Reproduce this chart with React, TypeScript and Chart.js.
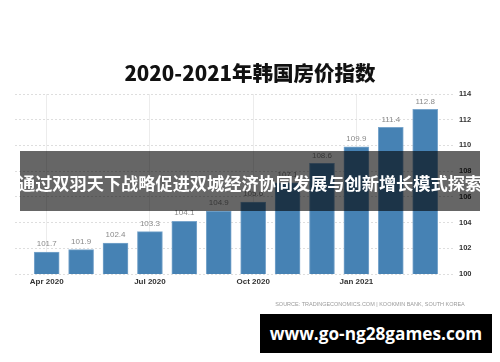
import React, { useEffect, useRef } from "react";
import { Chart, registerables } from "chart.js";

Chart.register(...registerables);

const titleText = "2020-2021年韩国房价指数";
const bannerText = "通过双羽天下战略促进双城经济协同发展与创新增长模式探索";
const sourceText = "SOURCE: TRADINGECONOMICS.COM | KOOKMIN BANK, SOUTH KOREA";
const watermarkText = "www.go-ng28games.com";

const categories = [
  "Apr 2020", "May 2020", "Jun 2020", "Jul 2020", "Aug 2020", "Sep 2020",
  "Oct 2020", "Nov 2020", "Dec 2020", "Jan 2021", "Feb 2021", "Mar 2021",
];
const values = [101.7, 101.9, 102.4, 103.3, 104.1, 104.9, 105.6, 107.1, 108.6, 109.9, 111.4, 112.8];
const xTickIndices = [0, 3, 6, 9];
const yTicks = [100, 102, 104, 106, 108, 110, 112, 114];

const valueLabels = {
  id: "valueLabels",
  afterDatasetsDraw(chart: any) {
    const ctx = chart.ctx;
    const meta = chart.getDatasetMeta(0);
    ctx.save();
    ctx.font = "8px 'Liberation Sans', Arial, sans-serif";
    ctx.fillStyle = "#8a8a8a";
    ctx.textAlign = "center";
    ctx.textBaseline = "middle";
    meta.data.forEach((el: any, i: number) => {
      ctx.fillText(values[i].toFixed(1), el.x, el.y - 8);
    });
    ctx.restore();
  },
};

export default function App() {
  const ref = useRef<HTMLCanvasElement | null>(null);

  useEffect(() => {
    if (!ref.current) return;
    const chart = new Chart(ref.current, {
      type: "bar",
      data: {
        datasets: [
          {
            data: values.map((v, i) => ({ x: i, y: v })),
            backgroundColor: "#4682b4",
            borderColor: "#7aa6cc",
            borderWidth: 1,
            barThickness: 25,
          } as any,
        ],
      },
      options: {
        animation: false,
        responsive: false,
        layout: { padding: { left: 15, top: 94, right: 0, bottom: 68 } },
        plugins: { legend: { display: false }, tooltip: { enabled: false } },
        scales: {
          x: {
            type: "linear",
            offset: false,
            min: -0.921,
            max: 11.866,
            afterBuildTicks: (scale: any) => {
              scale.ticks = xTickIndices.map((v) => ({ value: v }));
            },
            afterFit: (scale: any) => {
              scale.height = 20;
            },
            ticks: {
              padding: 3,
              color: "#333",
              font: { family: "'Liberation Sans', Arial, sans-serif", size: 8, weight: "bold" },
              callback: (v: any) => categories[v as number] ?? "",
              maxRotation: 0,
              autoSkip: false,
            },
            grid: { color: "#ececec", drawTicks: false, lineWidth: 1, offset: false },
            border: { display: false },
          },
          y: {
            position: "right",
            min: 100,
            max: 114,
            afterBuildTicks: (scale: any) => {
              scale.ticks = yTicks.map((v) => ({ value: v }));
            },
            afterFit: (scale: any) => {
              scale.width = 45;
            },
            ticks: {
              padding: 4,
              color: "#333",
              font: { family: "'Liberation Sans', Arial, sans-serif", size: 7.5, weight: "bold" },
            },
            grid: { color: "#dedede", drawTicks: false, lineWidth: 1 },
            border: { display: false, dash: [2, 2] },
          },
        },
      } as any,
      plugins: [valueLabels],
    });
    return () => chart.destroy();
  }, []);

  return (
    <div style={{ position: "absolute", left: 0, top: 0, width: 500, height: 362, background: "#fff", overflow: "hidden" }}>
      <canvas ref={ref} width={500} height={362} style={{ position: "absolute", left: 0, top: 0, width: 500, height: 362 }} />
      <div
        style={{
          position: "absolute", left: 0, width: 500, top: 56, height: 32, lineHeight: "32px", textAlign: "center",
          fontFamily: "'Noto Sans CJK SC', sans-serif", fontWeight: 900, fontSize: 20.5, color: "#111",
        }}
      >
        {titleText}
      </div>
      <div
        style={{
          position: "absolute", left: 20, width: 460, top: 151, height: 60, background: "rgba(0,0,0,0.6)",
        }}
      />
      <div
        style={{
          position: "absolute", left: 0, width: 500, top: 167, height: 32, lineHeight: "32px", textAlign: "center",
          fontFamily: "'Noto Sans CJK SC', sans-serif", fontWeight: 700, fontSize: 17.2, color: "#fff", whiteSpace: "nowrap",
        }}
      >
        {bannerText}
      </div>
      <div
        style={{
          position: "absolute", left: 272, width: 196, top: 299, height: 10, lineHeight: "10px", textAlign: "center",
          fontFamily: "'Liberation Sans', Arial, sans-serif", fontSize: 5.5, color: "#9a9a9a", whiteSpace: "nowrap",
        }}
      >
        {sourceText}
      </div>
      <div
        style={{
          position: "absolute", left: 260, width: 232, top: 314, height: 39, background: "#000",
          color: "#fff", textAlign: "center", lineHeight: "39px",
          fontFamily: "'Open Sans', sans-serif", fontWeight: 700, fontSize: 17.2, whiteSpace: "nowrap",
        }}
      >
        {watermarkText}
      </div>
    </div>
  );
}
